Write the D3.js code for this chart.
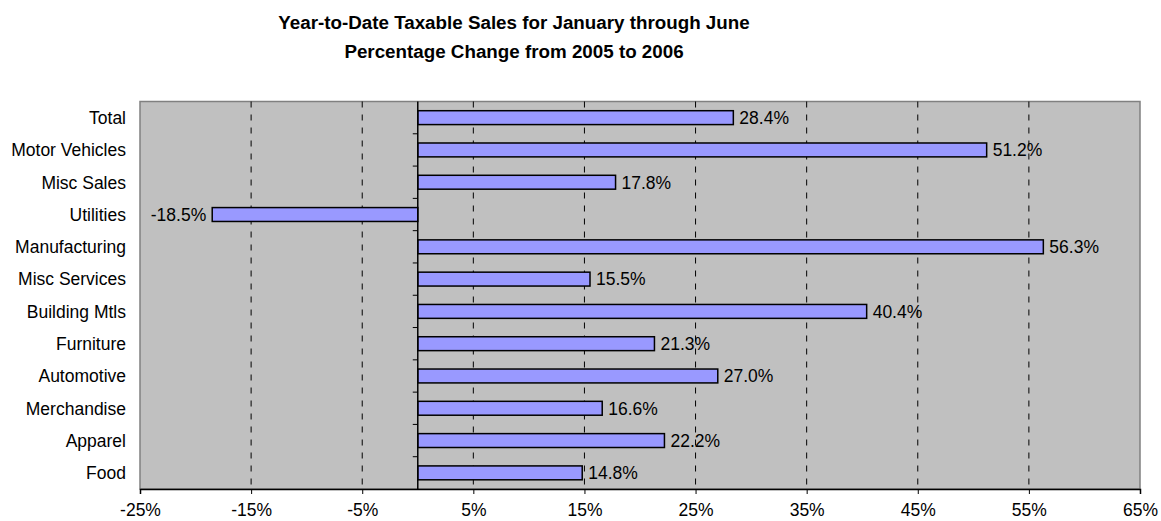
<!DOCTYPE html>
<html>
<head>
<meta charset="utf-8">
<script src="https://cdn.jsdelivr.net/npm/d3@7"></script>
<style>
  body { margin: 0; background: #fff; }
  text { font-family: Arial, "Liberation Sans", sans-serif; fill: #000; }
</style>
</head>
<body>
<script>
'use strict';

// categories top to bottom
const categories = ['Total', 'Motor Vehicles', 'Misc Sales', 'Utilities', 'Manufacturing',
  'Misc Services', 'Building Mtls', 'Furniture', 'Automotive', 'Merchandise', 'Apparel', 'Food'];
// percentage change 2005 -> 2006
const changes = [28.4, 51.2, 17.8, -18.5, 56.3, 15.5, 40.4, 21.3, 27.0, 16.6, 22.2, 14.8];
const xTicks = [-25, -15, -5, 5, 15, 25, 35, 45, 55, 65];
const titleLines = ['Year-to-Date Taxable Sales for January through June',
  'Percentage Change from 2005 to 2006'];

const width = 1161, height = 521;
const plot = { left: 140, right: 1140, top: 101.5, bottom: 489 };
const labelSize = '17.5px';

const svg = d3.select('body').append('svg')
  .attr('width', width)
  .attr('height', height);

const x = d3.scaleLinear().domain([-25, 65]).range([plot.left, plot.right]);
const y = d3.scaleBand().domain(categories).range([plot.top, plot.bottom]).paddingInner(0.57).paddingOuter(0.285);
const band = d3.scaleBand().domain(categories).range([plot.top, plot.bottom]);

// plot background
svg.append('rect')
  .attr('x', plot.left).attr('y', plot.top)
  .attr('width', plot.right - plot.left).attr('height', plot.bottom - plot.top)
  .attr('fill', '#c0c0c0')
  .attr('stroke', '#808080')
  .attr('stroke-width', 1.5);

// dashed gridlines
svg.append('g').selectAll('line')
  .data(xTicks.slice(1, -1))
  .join('line')
    .attr('x1', d => x(d)).attr('x2', d => x(d))
    .attr('y1', plot.top).attr('y2', plot.bottom)
    .attr('stroke', '#000')
    .attr('stroke-width', 1)
    .attr('stroke-dasharray', '6,7');

// bars
svg.append('g').selectAll('rect')
  .data(categories)
  .join('rect')
    .attr('x', (d, i) => x(Math.min(0, changes[i])))
    .attr('y', d => y(d))
    .attr('width', (d, i) => Math.abs(x(changes[i]) - x(0)))
    .attr('height', y.bandwidth())
    .attr('fill', '#9999ff')
    .attr('stroke', '#000')
    .attr('stroke-width', 1.5);

// value labels
svg.append('g').selectAll('text')
  .data(categories)
  .join('text')
    .attr('x', (d, i) => changes[i] < 0 ? x(changes[i]) - 6 : x(changes[i]) + 6)
    .attr('y', d => y(d) + y.bandwidth() / 2)
    .attr('dy', '0.36em')
    .attr('text-anchor', (d, i) => changes[i] < 0 ? 'end' : 'start')
    .style('font-size', labelSize)
    .text((d, i) => changes[i].toFixed(1) + '%');

// category axis at zero
svg.append('line')
  .attr('x1', x(0)).attr('x2', x(0))
  .attr('y1', plot.top).attr('y2', plot.bottom)
  .attr('stroke', '#000').attr('stroke-width', 1.5);
svg.append('g').selectAll('line')
  .data(categories.slice(1))
  .join('line')
    .attr('x1', x(0) - 5).attr('x2', x(0))
    .attr('y1', d => band(d)).attr('y2', d => band(d))
    .attr('stroke', '#000');

// category labels
svg.append('g').selectAll('text')
  .data(categories)
  .join('text')
    .attr('x', plot.left - 14)
    .attr('y', d => band(d) + band.bandwidth() / 2)
    .attr('dy', '0.36em')
    .attr('text-anchor', 'end')
    .style('font-size', labelSize)
    .text(d => d);

// x axis
const xAxis = d3.axisBottom(x).tickValues(xTicks).tickSize(5).tickPadding(10)
  .tickFormat(d => d + '%');
const gx = svg.append('g')
  .attr('transform', `translate(0, ${plot.bottom})`)
  .call(xAxis);
gx.select('.domain').attr('stroke-width', 1.5);
gx.selectAll('text').style('font-size', labelSize).style('font-family', 'Arial, "Liberation Sans", sans-serif');

// title
svg.append('g').selectAll('text')
  .data(titleLines)
  .join('text')
    .attr('x', 514)
    .attr('y', (d, i) => 29 + i * 29)
    .attr('text-anchor', 'middle')
    .style('font-size', '18.8px')
    .style('font-weight', 'bold')
    .text(d => d);
</script>
</body>
</html>
